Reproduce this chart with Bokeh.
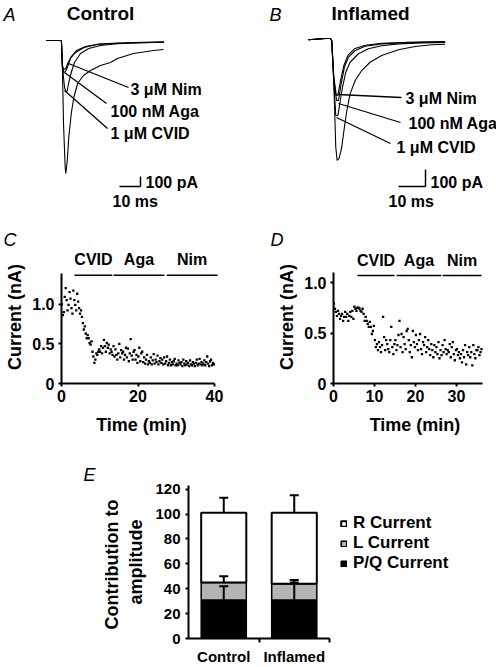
import numpy as np
from bokeh.plotting import figure
from bokeh.layouts import column, row
from bokeh.models import (Label, FixedTicker, Legend, LegendItem, Whisker, TeeHead,
                          ColumnDataSource, Range1d)
from bokeh.core.properties import value
from bokeh.embed import file_html
from bokeh.resources import INLINE

FONT = "Liberation Sans"

# ---------------- data ----------------
trace_labels = ["3 μM Nim", "100 nM Aga", "1 μM CVID"]

# Panel A (control neuron) current traces: time (ms), current (pA)
a_ctrl_t = [0, 7.1, 7.6, 8.1, 8.9, 9.2, 9.9, 10.6, 11.8, 13.0, 14.8, 17.6, 21.0, 25.7, 30.5, 33.8, 41.4, 51.0, 55.7]
a_ctrl_i = [0, 0, -300, -830, -1270, -1330, -1200, -970, -730, -570, -430, -350, -300, -250, -220, -180, -130, -100, -90]
a_cvid_t = [0, 7.1, 7.6, 8.6, 9.4, 9.9, 10.6, 11.8, 13.3, 16.2, 20.1, 25.7, 33.7, 44.8, 55.9]
a_cvid_i = [0, 0, -270, -470, -520, -500, -420, -320, -220, -130, -80, -50, -33, -23, -17]
a_aga_t = [0, 7.1, 7.6, 8.2, 9.0, 9.9, 11.4, 13.8, 17.8, 24.1, 33.7, 55.9]
a_aga_i = [0, 0, -270, -320, -310, -270, -180, -120, -70, -40, -27, -17]
a_nim_t = [0, 7.1, 7.6, 8.2, 9.2, 10.1, 11.8, 14.3, 18.6, 25.7, 41.6, 55.9]
a_nim_i = [0, 0, -250, -290, -280, -230, -160, -100, -60, -33, -20, -13]

# Panel B (inflamed neuron) current traces
b_ctrl_t = [0, 6.2, 8.0, 8.6, 9.4, 10.1, 10.6, 11.4, 12.3, 13.3, 14.2, 15.4, 17.3, 19.7, 22.8, 27.1, 33.3, 39.5, 45.7, 50.6]
b_ctrl_i = [0, 8, 8, -4, -260, -632, -710, -695, -632, -514, -416, -318, -239, -181, -132, -92, -59, -39, -29, -26]
b_cvid_t = [0, 6.2, 8.0, 8.6, 9.4, 10.1, 10.9, 11.6, 12.6, 13.8, 15.4, 18.5, 22.2, 27.1, 33.3, 42.0, 50.6]
b_cvid_i = [0, 8, 8, -4, -260, -445, -445, -376, -279, -191, -132, -82, -53, -35, -24, -18, -16]
b_aga_t = [0, 6.2, 8.0, 8.6, 9.4, 10.4, 11.1, 12.1, 13.3, 14.8, 17.3, 21.0, 27.1, 37.0, 50.6]
b_aga_i = [0, 8, 8, -4, -239, -357, -357, -259, -161, -102, -63, -38, -24, -16, -12]
b_nim_t = [0, 6.2, 8.0, 8.6, 9.4, 10.3, 10.9, 11.9, 13.1, 14.6, 17.0, 21.0, 27.1, 37.0, 50.6]
b_nim_i = [0, 8, 8, -4, -220, -328, -324, -239, -151, -92, -53, -32, -20, -14, -10]

# Panels C/D: drug applications
drug_names = ["CVID", "Aga", "Nim"]
c_drug_start = [3.4, 13.6, 27.5]
c_drug_end = [13.3, 26.9, 40.8]
d_drug_start = [5.85, 15.4, 26.6]
d_drug_end = [14.9, 26.3, 36.1]

# Panel C time course: time (min), current (nA)
c_time = [
    0.1, 0.35, 0.6, 0.85, 1.1, 1.35, 1.6, 1.85, 2.1, 2.35, 2.6, 2.85, 3.1, 3.35, 3.6, 3.85,
    4.1, 4.35, 4.6, 4.85, 5.1, 5.35, 5.6, 5.85, 6.1, 6.35, 6.6, 6.85, 7.1, 7.35, 7.6, 7.85,
    8.1, 8.35, 8.6, 8.85, 9.1, 9.35, 9.6, 9.85, 10.1, 10.35, 10.6, 10.85, 11.1, 11.35, 11.6, 11.85,
    12.1, 12.35, 12.6, 12.85, 13.1, 13.35, 13.6, 13.85, 14.1, 14.35, 14.6, 14.85, 15.1, 15.35, 15.6, 15.85,
    16.1, 16.35, 16.6, 16.85, 17.1, 17.35, 17.6, 17.85, 18.1, 18.35, 18.6, 18.85, 19.1, 19.35, 19.6, 19.85,
    20.1, 20.35, 20.6, 20.85, 21.1, 21.35, 21.6, 21.85, 22.1, 22.35, 22.6, 22.85, 23.1, 23.35, 23.6, 23.85,
    24.1, 24.35, 24.6, 24.85, 25.1, 25.35, 25.6, 25.85, 26.1, 26.35, 26.6, 26.85, 27.1, 27.35, 27.6, 27.85,
    28.1, 28.35, 28.6, 28.85, 29.1, 29.35, 29.6, 29.85, 30.1, 30.35, 30.6, 30.85, 31.1, 31.35, 31.6, 31.85,
    32.1, 32.35, 32.6, 32.85, 33.1, 33.35, 33.6, 33.85, 34.1, 34.35, 34.6, 34.85, 35.1, 35.35, 35.6, 35.85,
    36.1, 36.35, 36.6, 36.85, 37.1, 37.35, 37.6, 37.85, 38.1, 38.35, 38.6, 38.85, 39.1, 39.35, 39.6, 39.85,
]
c_current = [
    1.00, 0.86, 0.90, 1.09, 1.20, 1.05, 0.92, 0.99, 1.15, 1.07, 0.95, 0.88, 1.17, 1.05, 0.99, 0.92,
    1.13, 1.03, 0.95, 0.88, 0.92, 0.84, 0.76, 0.68, 0.72, 0.63, 0.57, 0.61, 0.57, 0.51, 0.49, 0.53,
    0.40, 0.34, 0.26, 0.30, 0.38, 0.36, 0.40, 0.43, 0.40, 0.47, 0.38, 0.45, 0.55, 0.47, 0.40, 0.51,
    0.45, 0.49, 0.38, 0.43, 0.40, 0.36, 0.47, 0.34, 0.43, 0.36, 0.30, 0.38, 0.50, 0.33, 0.42, 0.38,
    0.40, 0.30, 0.36, 0.45, 0.33, 0.44, 0.28, 0.38, 0.56, 0.35, 0.30, 0.40, 0.42, 0.30, 0.36, 0.26,
    0.34, 0.45, 0.28, 0.38, 0.40, 0.27, 0.33, 0.25, 0.30, 0.36, 0.24, 0.28, 0.26, 0.33, 0.24, 0.29,
    0.37, 0.25, 0.30, 0.27, 0.35, 0.24, 0.28, 0.32, 0.26, 0.30, 0.24, 0.33, 0.25, 0.28, 0.34, 0.23,
    0.26, 0.30, 0.23, 0.27, 0.24, 0.28, 0.31, 0.23, 0.25, 0.23, 0.29, 0.26, 0.24, 0.27, 0.22, 0.30,
    0.25, 0.23, 0.28, 0.24, 0.26, 0.22, 0.29, 0.24, 0.23, 0.27, 0.25, 0.22, 0.26, 0.30, 0.23, 0.25,
    0.31, 0.24, 0.27, 0.23, 0.25, 0.29, 0.23, 0.27, 0.34, 0.25, 0.22, 0.28, 0.30, 0.23, 0.26, 0.24,
]

# Panel D time course
d_time = [
    0.1, 0.35, 0.6, 0.85, 1.1, 1.35, 1.6, 1.85, 2.1, 2.35, 2.6, 2.85, 3.1, 3.35, 3.6, 3.85,
    4.1, 4.35, 4.6, 4.85, 5.1, 5.35, 5.6, 5.85, 6.1, 6.35, 6.6, 6.85, 7.1, 7.35, 7.6, 7.85,
    8.1, 8.35, 8.6, 8.85, 9.1, 9.35, 9.6, 9.85, 10.1, 10.35, 10.6, 10.85, 11.1, 11.35, 11.6, 11.85,
    12.1, 12.35, 12.6, 12.85, 13.1, 13.35, 13.6, 13.85, 14.1, 14.35, 14.6, 14.85, 15.1, 15.35, 15.6, 15.85,
    16.1, 16.35, 16.6, 16.85, 17.1, 17.35, 17.6, 17.85, 18.1, 18.35, 18.6, 18.85, 19.1, 19.35, 19.6, 19.85,
    20.1, 20.35, 20.6, 20.85, 21.1, 21.35, 21.6, 21.85, 22.1, 22.35, 22.6, 22.85, 23.1, 23.35, 23.6, 23.85,
    24.1, 24.35, 24.6, 24.85, 25.1, 25.35, 25.6, 25.85, 26.1, 26.35, 26.6, 26.85, 27.1, 27.35, 27.6, 27.85,
    28.1, 28.35, 28.6, 28.85, 29.1, 29.35, 29.6, 29.85, 30.1, 30.35, 30.6, 30.85, 31.1, 31.35, 31.6, 31.85,
    32.1, 32.35, 32.6, 32.85, 33.1, 33.35, 33.6, 33.85, 34.1, 34.35, 34.6, 34.85, 35.1, 35.35, 35.6, 35.85,
    36.1,
]
d_current = [
    0.79, 0.74, 0.71, 0.67, 0.72, 0.69, 0.64, 0.67, 0.69, 0.62, 0.66, 0.71, 0.66, 0.69, 0.62, 0.67,
    0.71, 0.66, 0.72, 0.64, 0.76, 0.74, 0.72, 0.75, 0.75, 0.74, 0.72, 0.71, 0.74, 0.69, 0.62, 0.66,
    0.62, 0.59, 0.56, 0.61, 0.56, 0.49, 0.52, 0.57, 0.43, 0.36, 0.39, 0.33, 0.41, 0.36, 0.31, 0.38,
    0.66, 0.46, 0.33, 0.43, 0.39, 0.34, 0.31, 0.43, 0.56, 0.36, 0.29, 0.39, 0.43, 0.33, 0.38, 0.48,
    0.62, 0.36, 0.49, 0.31, 0.46, 0.39, 0.34, 0.52, 0.54, 0.43, 0.31, 0.38, 0.26, 0.52, 0.41, 0.36,
    0.48, 0.39, 0.33, 0.43, 0.49, 0.34, 0.29, 0.41, 0.38, 0.46, 0.31, 0.36, 0.43, 0.34, 0.28, 0.39,
    0.33, 0.26, 0.38, 0.31, 0.36, 0.29, 0.41, 0.25, 0.33, 0.28, 0.38, 0.31, 0.43, 0.34, 0.29, 0.33,
    0.31, 0.39, 0.26, 0.36, 0.41, 0.29, 0.23, 0.33, 0.34, 0.28, 0.31, 0.25, 0.29, 0.21, 0.33, 0.26,
    0.38, 0.19, 0.31, 0.28, 0.36, 0.26, 0.31, 0.18, 0.38, 0.29, 0.25, 0.33, 0.33, 0.36, 0.28, 0.31,
    0.34,
]

# Panel E: contribution to amplitude (%)
groups = ["Control", "Inflamed"]
pq_mean = [31, 31]
l_mean = [14, 13]
r_mean = [56, 57]
pq_err = [11, 14]
l_err = [5, 3]
total_err = [12, 14]
legend_labels = ["R Current", "L Current", "P/Q Current"]


# ---------------- helpers ----------------
def bare_fig(xr, yr, w, h):
    p = figure(width=w, height=h, x_range=Range1d(*xr), y_range=Range1d(*yr),
               output_backend="svg", toolbar_location=None,
               x_axis_type=None, y_axis_type=None, min_border=0)
    p.grid.visible = False
    p.outline_line_color = None
    return p


def lab(p, x, y, text, size="16px", style="bold", align="left", angle=0.0):
    p.add_layout(Label(x=x, y=y, text=text, text_font=FONT, text_font_style=style,
                       text_font_size=size, text_align=align, text_baseline="middle",
                       text_color="black", angle=angle))


def letter_title(p, letter, offset):
    p.title.text = letter
    p.title.text_font = FONT
    p.title.text_font_style = "italic"
    p.title.text_font_size = "18px"
    p.title.text_color = "black"
    p.title.align = "left"
    p.title.offset = offset
    p.title.standoff = 2


def style_axis(ax, tick_size="16px"):
    ax.axis_line_width = 2
    ax.axis_line_color = "black"
    ax.major_tick_line_width = 2
    ax.major_tick_line_color = "black"
    ax.major_tick_out = 3
    ax.major_tick_in = 0
    ax.minor_tick_line_color = None
    ax.major_label_text_font = FONT
    ax.major_label_text_font_style = "bold"
    ax.major_label_text_font_size = tick_size
    ax.major_label_text_color = "black"
    ax.axis_label_text_font = FONT
    ax.axis_label_text_font_style = "bold"
    ax.axis_label_text_font_size = "18px"
    ax.axis_label_text_color = "black"


# ---------------- panel A ----------------
def a_xy(px, py):
    return ((px - 46) / 2.1, (40 - py) * 10.0)


pa = bare_fig(((0 - 46) / 2.1, (248 - 46) / 2.1), ((40 - 215) * 10.0, 40 * 10.0), 248, 215)
for t, i in [(a_ctrl_t, a_ctrl_i), (a_cvid_t, a_cvid_i), (a_aga_t, a_aga_i), (a_nim_t, a_nim_i)]:
    pa.line(t, i, line_color="black", line_width=1.1)
lab(pa, *a_xy(3, 14), "A", size="18px", style="italic")
lab(pa, *a_xy(100, 13), "Control", size="19px", align="center")
a_lead = [((68, 63), (128, 87)), ((64, 72), (106, 103)), ((64, 90), (107, 128))]
a_text = [(130, 89), (110, 111), (110, 133)]
for (s, e), tp, txt in zip(a_lead, a_text, trace_labels):
    x0, y0 = a_xy(*s)
    x1, y1 = a_xy(*e)
    pa.segment(x0=[x0], y0=[y0], x1=[x1], y1=[y1], line_color="black", line_width=1.3)
    lab(pa, *a_xy(*tp), txt)
t0, i0 = a_xy(119, 186)
pa.segment(x0=[t0, t0 + 10], y0=[i0, i0], x1=[t0 + 10, t0 + 10], y1=[i0, i0 + 100],
           line_color="black", line_width=1.5)
lab(pa, *a_xy(145, 182), "100 pA")
lab(pa, *a_xy(112, 201), "10 ms")


# ---------------- panel B ----------------
def b_xy(px, py):
    return ((px - 308) / 2.7, (39.3 - py) / 0.17)


pb = bare_fig(((248 - 308) / 2.7, (496 - 308) / 2.7), ((39.3 - 215) / 0.17, 39.3 / 0.17), 248, 215)
for t, i in [(b_ctrl_t, b_ctrl_i), (b_cvid_t, b_cvid_i), (b_aga_t, b_aga_i), (b_nim_t, b_nim_i)]:
    pb.line(t, i, line_color="black", line_width=1.1)
lab(pb, *b_xy(269, 14), "B", size="18px", style="italic")
lab(pb, *b_xy(370, 13), "Inflamed", size="19px", align="center")
b_lead = [((337, 94), (401, 97)), ((338, 103), (400, 122)), ((336, 117), (390, 143))]
b_text = [(405, 98), (408, 123), (396, 147)]
for (s, e), tp, txt in zip(b_lead, b_text, trace_labels):
    x0, y0 = b_xy(*s)
    x1, y1 = b_xy(*e)
    pb.segment(x0=[x0], y0=[y0], x1=[x1], y1=[y1], line_color="black", line_width=1.3)
    lab(pb, *b_xy(*tp), txt)
t0, i0 = b_xy(398, 186)
pb.segment(x0=[t0, t0 + 10], y0=[i0, i0], x1=[t0 + 10, t0 + 10], y1=[i0, i0 + 100],
           line_color="black", line_width=1.5)
lab(pb, *b_xy(430, 182), "100 pA")
lab(pb, *b_xy(388, 201), "10 ms")


# ---------------- panels C & D ----------------
FRAME_TOP = 250  # page y of the top of the C/D plot areas


def course_fig(xend, y0px, yscale, left, right, bottom, xticks, xbound, ybound, times, vals,
               d_start, d_end, bar_px, name_px, letter, letter_off):
    p = figure(width=248, height=225, x_range=Range1d(0, xend),
               y_range=Range1d(0, (y0px - FRAME_TOP) / yscale),
               output_backend="svg", toolbar_location=None,
               min_border_left=left, min_border_right=right, min_border_top=FRAME_TOP - 215,
               min_border_bottom=bottom)
    p.grid.visible = False
    p.outline_line_color = None
    letter_title(p, letter, letter_off)
    p.xaxis.ticker = FixedTicker(ticks=xticks)
    p.yaxis.ticker = FixedTicker(ticks=[0, 0.5, 1.0])
    p.yaxis.major_label_overrides = {0: "0", 0.5: "0.5", 1: "1.0"}
    p.xaxis.bounds = xbound
    p.yaxis.bounds = ybound
    p.xaxis.axis_label = "Time (min)"
    p.yaxis.axis_label = "Current (nA)"
    for ax in (p.xaxis[0], p.yaxis[0]):
        style_axis(ax)
    p.xaxis.major_label_standoff = 3
    p.xaxis.axis_label_standoff = 10
    p.yaxis.major_label_standoff = 4
    p.yaxis.axis_label_standoff = 4
    p.scatter(times, vals, marker="square", size=2.3, fill_color="black", line_color=None)
    bar_y = (y0px - bar_px) / yscale
    name_y = (y0px - name_px) / yscale
    p.segment(x0=d_start, y0=[bar_y] * 3, x1=d_end, y1=[bar_y] * 3,
              line_color="black", line_width=1.5)
    mids = [(a + b) / 2 for a, b in zip(d_start, d_end)]
    p.text(x=mids, y=[name_y] * 3, text=drug_names, text_font=value(FONT),
           text_font_style="bold", text_font_size="16px", text_align="center",
           text_baseline="middle", text_color="black")
    return p


pc = course_fig((221 - 61) / 3.825, 384, 80.0, 61, 27, 56, [0, 20, 40], (0, 40), (0, 1.38),
                c_time, c_current, c_drug_start, c_drug_end, 275, 259, "C", 3 - 61)
pd_ = course_fig((496 - 333) / 4.1, 383, 101.0, 85, 0, 57, [0, 10, 20, 30], (0, 36.3), (0, 1.1),
                 d_time, d_current, d_drug_start, d_drug_end, 275, 260, "D", 270 - 333)

# ---------------- panel E ----------------
XS = 70.5    # px per category unit
YS = 1.2775  # px per percent
E_TOP = 485
pe = figure(width=496, height=227, x_range=Range1d(0, (496 - 188) / XS),
            y_range=Range1d(0, (642 - E_TOP) / YS),
            output_backend="svg", toolbar_location=None,
            min_border_left=188, min_border_right=0, min_border_top=E_TOP - 440,
            min_border_bottom=25)
pe.grid.visible = False
pe.outline_line_color = None
letter_title(pe, "E", 83 - 188)
xs = [k + 0.5 for k in range(len(groups))]
pq_top = pq_mean
l_top = [a + b for a, b in zip(pq_mean, l_mean)]
r_top = [a + b for a, b in zip(l_top, r_mean)]
rb = pe.vbar(x=xs, width=0.64, bottom=0, top=pq_top, fill_color="black", line_color="black", line_width=1.5)
rl = pe.vbar(x=xs, width=0.64, bottom=pq_top, top=l_top, fill_color="#b4b4b4", line_color="black", line_width=1.5)
rr = pe.vbar(x=xs, width=0.64, bottom=l_top, top=r_top, fill_color="white", line_color="black", line_width=2)
for lo, er in [(pq_top, pq_err), (l_top, l_err), (r_top, total_err)]:
    src = ColumnDataSource(dict(x=xs, lower=lo, upper=[a + b for a, b in zip(lo, er)]))
    pe.add_layout(Whisker(base="x", lower="lower", upper="upper", source=src, level="overlay",
                          line_color="black", line_width=2, lower_head=None,
                          upper_head=TeeHead(size=9, line_width=2, line_color="black")))
pe.xaxis.ticker = FixedTicker(ticks=xs, minor_ticks=[1, 2])
pe.xaxis.major_label_overrides = {0.5: "Control", 1.5: "Inflamed"}
pe.xaxis.bounds = (0, 2)
pe.yaxis.ticker = FixedTicker(ticks=[0, 20, 40, 60, 80, 100, 120])
pe.yaxis.bounds = (0, 123)
pe.yaxis.axis_label = "Contribution  to\namplitude"
for ax in (pe.xaxis[0], pe.yaxis[0]):
    style_axis(ax, tick_size="15px")
pe.yaxis.axis_label_text_font_size = "18px"
pe.yaxis.axis_label_standoff = 6
pe.xaxis.major_tick_out = 0
pe.xaxis.minor_tick_line_color = "black"
pe.xaxis.minor_tick_line_width = 2
pe.xaxis.minor_tick_out = 4
pe.xaxis.minor_tick_in = 0
pe.xaxis.major_label_standoff = 5
pe.yaxis.major_label_standoff = 5
legend = Legend(items=[LegendItem(label=legend_labels[0], renderers=[rr]),
                       LegendItem(label=legend_labels[1], renderers=[rl]),
                       LegendItem(label=legend_labels[2], renderers=[rb])],
                location=(340 - 188, 642 - 577), glyph_width=7, glyph_height=7,
                label_standoff=6, spacing=0, padding=0, margin=0,
                border_line_color=None, background_fill_alpha=0,
                label_text_font=FONT, label_text_font_style="bold",
                label_text_font_size="17px", label_text_color="black", label_height=19)
pe.add_layout(legend)

root = column(row(pa, pb), row(pc, pd_), pe)
open("out.html", "w").write(file_html(root, INLINE))
